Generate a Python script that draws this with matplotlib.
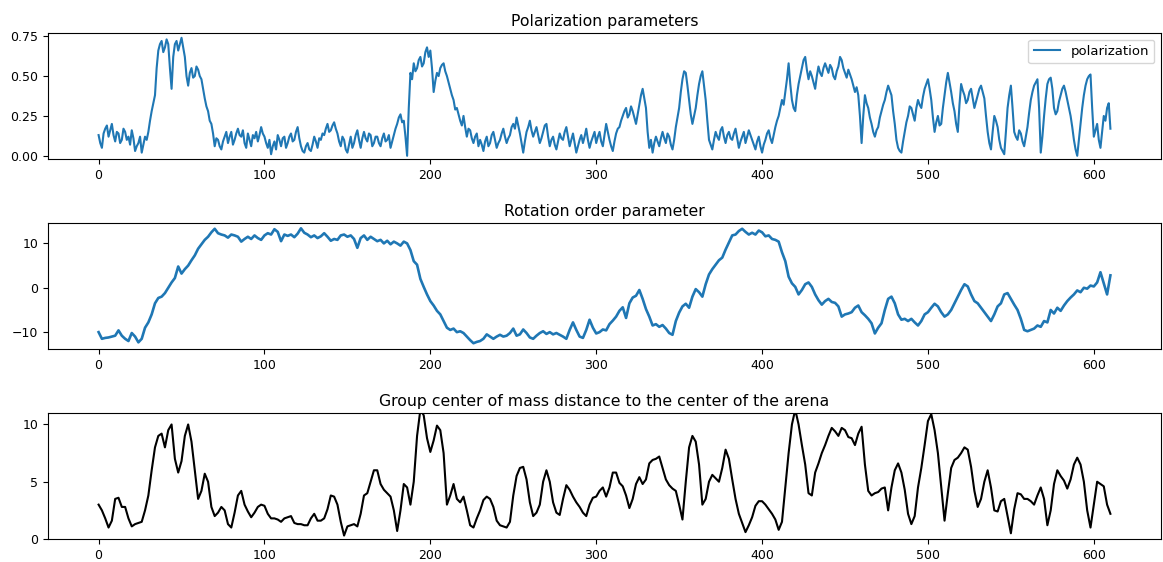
import numpy as np
import matplotlib
matplotlib.use("Agg")
import matplotlib.pyplot as plt

# time axes
time_fine = list(range(0, 611, 1))   # polarization sampled every unit
time = list(range(0, 611, 2))        # rotation / distance sampled every 2 units

polarization = [
    0.13, 0.08, 0.05, 0.14, 0.17, 0.19, 0.12, 0.16, 0.20, 0.13, 0.09, 0.15, 0.14, 0.08, 0.10, 0.17, 0.15, 0.10, 0.12, 0.07,
    0.16, 0.11, 0.03, 0.06, 0.08, 0.12, 0.02, 0.07, 0.12, 0.10, 0.15, 0.22, 0.28, 0.33, 0.38, 0.55, 0.66, 0.70, 0.72, 0.65,
    0.68, 0.73, 0.70, 0.55, 0.42, 0.62, 0.70, 0.72, 0.66, 0.70, 0.74, 0.68, 0.62, 0.50, 0.44, 0.52, 0.55, 0.49, 0.50, 0.56,
    0.54, 0.50, 0.48, 0.42, 0.36, 0.31, 0.28, 0.22, 0.20, 0.14, 0.06, 0.11, 0.10, 0.06, 0.04, 0.09, 0.12, 0.15, 0.08, 0.12,
    0.15, 0.07, 0.10, 0.14, 0.17, 0.13, 0.12, 0.16, 0.08, 0.05, 0.14, 0.10, 0.06, 0.13, 0.11, 0.15, 0.09, 0.13, 0.18, 0.14,
    0.12, 0.08, 0.05, 0.10, 0.01, 0.06, 0.09, 0.04, 0.13, 0.10, 0.06, 0.11, 0.12, 0.05, 0.08, 0.12, 0.14, 0.09, 0.10, 0.15,
    0.18, 0.11, 0.06, 0.03, 0.02, 0.06, 0.08, 0.04, 0.03, 0.07, 0.12, 0.09, 0.05, 0.11, 0.10, 0.14, 0.13, 0.17, 0.20, 0.15,
    0.16, 0.19, 0.21, 0.17, 0.14, 0.09, 0.06, 0.12, 0.10, 0.04, 0.02, 0.07, 0.12, 0.05, 0.08, 0.13, 0.16, 0.10, 0.05, 0.11,
    0.15, 0.11, 0.09, 0.14, 0.13, 0.06, 0.08, 0.12, 0.12, 0.08, 0.06, 0.11, 0.14, 0.09, 0.10, 0.13, 0.05, 0.09, 0.13, 0.17,
    0.20, 0.24, 0.26, 0.21, 0.22, 0.12, 0.00, 0.30, 0.52, 0.48, 0.58, 0.53, 0.55, 0.60, 0.62, 0.56, 0.58, 0.65, 0.68, 0.62,
    0.66, 0.55, 0.40, 0.47, 0.52, 0.50, 0.55, 0.57, 0.58, 0.53, 0.50, 0.46, 0.42, 0.38, 0.35, 0.29, 0.30, 0.26, 0.22, 0.19,
    0.25, 0.18, 0.12, 0.17, 0.16, 0.11, 0.08, 0.12, 0.14, 0.06, 0.10, 0.07, 0.03, 0.09, 0.12, 0.06, 0.08, 0.13, 0.15, 0.10,
    0.05, 0.08, 0.10, 0.14, 0.17, 0.12, 0.08, 0.11, 0.13, 0.18, 0.20, 0.17, 0.24, 0.19, 0.14, 0.08, 0.02, 0.09, 0.15, 0.18,
    0.22, 0.16, 0.12, 0.15, 0.18, 0.13, 0.08, 0.11, 0.15, 0.19, 0.20, 0.12, 0.06, 0.10, 0.12, 0.07, 0.04, 0.09, 0.14, 0.11,
    0.10, 0.15, 0.18, 0.12, 0.06, 0.10, 0.14, 0.08, 0.02, 0.06, 0.10, 0.13, 0.08, 0.12, 0.17, 0.10, 0.05, 0.09, 0.12, 0.15,
    0.08, 0.12, 0.15, 0.09, 0.06, 0.13, 0.20, 0.15, 0.10, 0.06, 0.03, 0.09, 0.14, 0.17, 0.18, 0.22, 0.25, 0.28, 0.30, 0.24,
    0.26, 0.31, 0.28, 0.24, 0.20, 0.26, 0.32, 0.38, 0.42, 0.36, 0.30, 0.15, 0.05, 0.10, 0.02, 0.08, 0.12, 0.09, 0.06, 0.11,
    0.15, 0.11, 0.08, 0.14, 0.12, 0.07, 0.04, 0.10, 0.18, 0.24, 0.30, 0.40, 0.48, 0.53, 0.52, 0.44, 0.35, 0.26, 0.20, 0.25,
    0.30, 0.38, 0.45, 0.50, 0.53, 0.44, 0.35, 0.22, 0.10, 0.07, 0.04, 0.10, 0.15, 0.12, 0.10, 0.16, 0.18, 0.12, 0.08, 0.13,
    0.15, 0.11, 0.10, 0.14, 0.17, 0.11, 0.05, 0.09, 0.12, 0.15, 0.08, 0.12, 0.16, 0.13, 0.10, 0.07, 0.04, 0.09, 0.12, 0.06,
    0.02, 0.07, 0.10, 0.14, 0.16, 0.11, 0.08, 0.13, 0.18, 0.22, 0.25, 0.30, 0.35, 0.32, 0.40, 0.48, 0.58, 0.45, 0.35, 0.30,
    0.28, 0.38, 0.45, 0.50, 0.55, 0.60, 0.62, 0.54, 0.48, 0.53, 0.50, 0.46, 0.42, 0.50, 0.56, 0.52, 0.50, 0.55, 0.58, 0.55,
    0.52, 0.57, 0.55, 0.50, 0.48, 0.53, 0.56, 0.62, 0.60, 0.55, 0.52, 0.49, 0.54, 0.51, 0.48, 0.44, 0.40, 0.43, 0.38, 0.25,
    0.08, 0.25, 0.38, 0.33, 0.30, 0.24, 0.20, 0.15, 0.12, 0.16, 0.18, 0.24, 0.28, 0.32, 0.35, 0.40, 0.44, 0.41, 0.38, 0.28,
    0.20, 0.10, 0.05, 0.03, 0.02, 0.09, 0.15, 0.21, 0.25, 0.31, 0.30, 0.26, 0.22, 0.30, 0.35, 0.32, 0.30, 0.37, 0.42, 0.45,
    0.48, 0.42, 0.35, 0.24, 0.15, 0.21, 0.25, 0.19, 0.20, 0.30, 0.38, 0.46, 0.52, 0.46, 0.40, 0.33, 0.28, 0.20, 0.15, 0.32,
    0.45, 0.41, 0.38, 0.33, 0.35, 0.40, 0.42, 0.36, 0.30, 0.34, 0.38, 0.42, 0.44, 0.40, 0.36, 0.25, 0.15, 0.08, 0.04, 0.15,
    0.25, 0.22, 0.18, 0.10, 0.05, 0.03, 0.01, 0.15, 0.30, 0.38, 0.44, 0.30, 0.15, 0.12, 0.10, 0.16, 0.14, 0.09, 0.06, 0.12,
    0.18, 0.27, 0.35, 0.40, 0.44, 0.46, 0.48, 0.30, 0.02, 0.12, 0.25, 0.36, 0.45, 0.48, 0.49, 0.42, 0.30, 0.26, 0.28, 0.34,
    0.38, 0.42, 0.44, 0.40, 0.35, 0.30, 0.25, 0.18, 0.10, 0.04, 0.00, 0.10, 0.20, 0.30, 0.38, 0.44, 0.48, 0.50, 0.51, 0.30,
    0.12, 0.16, 0.20, 0.10, 0.05, 0.15, 0.25, 0.22, 0.30, 0.33, 0.17,
]

rotation = [
    -10.0, -11.5, -11.3, -11.2, -11.0, -10.8, -9.6, -10.8, -11.5, -12.0,
    -10.2, -11.0, -12.3, -11.5, -9.0, -7.8, -6.0, -3.5, -2.3, -2.0,
    -1.2, 0.0, 1.2, 2.2, 4.8, 3.2, 4.2, 5.0, 6.2, 7.3,
    8.8, 9.8, 10.8, 11.5, 12.5, 13.3, 12.3, 12.0, 11.8, 11.3,
    12.0, 11.8, 11.5, 10.4, 11.0, 11.5, 11.0, 11.8, 11.2, 10.8,
    11.8, 12.3, 12.0, 13.2, 12.6, 10.5, 12.0, 11.7, 12.0, 11.4,
    12.2, 13.4, 12.4, 12.0, 11.4, 11.8, 11.2, 11.6, 12.3, 11.5,
    10.6, 11.0, 10.8, 11.8, 12.0, 11.5, 11.8, 11.0, 9.0, 11.2,
    11.8, 10.8, 11.5, 11.0, 10.5, 10.8, 10.0, 10.6, 9.8, 10.4,
    10.0, 9.5, 10.4, 10.0, 8.5, 6.0, 5.2, 2.0, 0.2, -1.5,
    -3.0, -4.0, -5.2, -6.0, -7.5, -9.0, -9.5, -9.2, -10.0, -9.8,
    -10.2, -11.0, -11.8, -12.5, -12.2, -12.0, -11.5, -10.5, -11.0, -11.5,
    -11.0, -10.6, -11.0, -10.8, -10.2, -9.2, -10.8, -10.5, -9.4, -10.2,
    -11.2, -11.5, -10.8, -10.2, -9.8, -10.4, -10.0, -10.5, -10.2, -10.6,
    -11.0, -11.5, -9.5, -7.8, -9.5, -11.0, -11.3, -9.5, -7.2, -9.0,
    -10.3, -10.0, -9.4, -9.6, -8.2, -7.4, -6.5, -5.2, -4.4, -6.8,
    -3.5, -2.2, -1.8, -0.5, -2.5, -4.8, -6.5, -8.5, -8.2, -8.8,
    -8.4, -9.2, -10.2, -10.6, -7.5, -5.6, -4.2, -3.6, -4.5, -2.0,
    -0.3, -1.0, -2.0, 0.8, 3.0, 4.2, 5.2, 6.2, 6.8, 8.6,
    10.2, 11.8, 12.0, 12.8, 13.3, 12.6, 12.0, 12.4, 12.0, 12.9,
    12.5, 11.6, 11.8, 11.0, 10.8, 10.4, 8.0, 6.0, 2.5, 1.0,
    0.2, -1.5, -0.5, 0.8, 1.2, 0.2, -1.5, -2.8, -3.8, -3.0,
    -2.5, -3.2, -3.4, -4.2, -6.5, -6.0, -5.8, -5.5, -4.5, -4.0,
    -5.5, -6.2, -7.0, -8.0, -10.3, -9.0, -8.0, -5.0, -2.5, -2.0,
    -3.5, -6.0, -7.2, -7.0, -7.5, -7.0, -7.8, -8.5, -7.5, -6.0,
    -5.5, -4.5, -3.6, -4.2, -5.5, -6.5, -6.0, -5.0, -3.5, -2.0,
    -0.5, 0.8, 0.3, -1.5, -3.0, -3.5, -4.5, -5.5, -6.5, -7.5,
    -6.0, -4.2, -3.5, -1.5, -1.2, -2.5, -3.8, -5.0, -7.0, -9.5,
    -9.8, -9.5, -9.2, -8.5, -8.8, -7.5, -7.8, -5.0, -5.8, -4.5,
    -5.2, -4.0, -3.0, -2.2, -1.5, -0.6, -1.0, 0.0, -0.2, 0.5,
    0.3, 1.2, 3.5, 1.0, -1.5, 2.8,
]

distance = [
    3.0, 2.5, 1.8, 1.0, 1.6, 3.5, 3.6, 2.8, 2.8, 1.8,
    1.1, 1.3, 1.4, 1.5, 2.5, 3.8, 6.0, 8.0, 9.0, 9.2,
    8.0, 9.5, 10.0, 7.0, 5.8, 6.8, 9.0, 10.0, 8.5, 6.0,
    3.5, 4.2, 5.7, 5.0, 2.8, 2.0, 2.3, 2.8, 2.5, 1.3,
    1.0, 2.3, 3.8, 4.2, 3.0, 2.4, 1.9, 2.3, 2.8, 3.0,
    2.9, 2.2, 1.8, 1.8, 1.7, 1.5, 1.8, 1.9, 2.0, 1.4,
    1.3, 1.3, 1.2, 1.2, 1.8, 2.2, 1.6, 1.6, 1.8, 2.6,
    3.8, 3.7, 3.0, 1.5, 0.3, 1.1, 1.2, 1.3, 1.1, 2.2,
    3.8, 4.0, 5.0, 6.0, 6.0, 4.8, 4.3, 4.0, 3.7, 2.5,
    0.7, 2.5, 4.8, 4.5, 3.0, 5.0, 9.0, 11.3, 10.8, 8.8,
    7.6, 8.6, 9.9, 9.5, 7.5, 3.0, 3.8, 4.8, 3.5, 3.2,
    3.7, 2.5, 1.2, 1.0, 1.8, 2.5, 3.4, 3.7, 3.5, 2.8,
    1.6, 1.2, 1.1, 1.0, 1.5, 3.8, 5.5, 6.2, 6.3, 5.2,
    3.2, 2.0, 2.3, 3.0, 5.0, 6.0, 5.0, 3.2, 2.3, 2.1,
    3.5, 4.7, 4.3, 3.7, 3.2, 2.8, 2.3, 2.0, 3.0, 3.6,
    3.7, 4.2, 4.5, 3.7, 4.5, 5.8, 5.8, 4.9, 4.6, 3.8,
    2.7, 3.5, 4.8, 5.4, 4.8, 5.2, 6.6, 6.9, 7.0, 7.2,
    6.2, 5.2, 4.7, 4.4, 4.2, 3.0, 1.7, 5.0, 8.0, 9.0,
    8.5, 6.5, 3.0, 3.5, 5.0, 5.6, 5.3, 5.0, 6.2, 7.8,
    7.0, 5.2, 3.5, 2.2, 1.4, 0.6, 1.2, 1.9, 2.9, 3.3,
    3.3, 3.0, 2.6, 2.2, 1.7, 0.8, 1.5, 4.5, 7.5, 10.0,
    11.3, 10.0, 8.2, 6.5, 4.0, 3.8, 5.8, 6.6, 7.5, 8.2,
    9.0, 9.7, 9.4, 9.0, 9.7, 9.5, 8.9, 8.8, 8.2, 9.2,
    9.8, 6.5, 4.2, 3.8, 4.0, 4.1, 4.4, 4.5, 2.5, 4.5,
    6.0, 6.6, 5.8, 4.3, 2.2, 1.3, 2.0, 4.5, 6.2, 8.2,
    10.3, 10.9, 9.5, 7.5, 4.5, 1.6, 4.0, 6.2, 6.9, 7.1,
    7.5, 8.0, 7.8, 6.3, 4.2, 2.8, 3.5, 5.0, 6.0, 4.5,
    2.5, 2.4, 3.3, 3.5, 2.0, 0.5, 2.6, 4.0, 3.9, 3.5,
    3.5, 3.3, 3.0, 3.8, 4.5, 3.5, 1.2, 2.5, 4.8, 6.0,
    5.5, 5.1, 4.4, 5.2, 6.5, 7.1, 6.5, 5.0, 2.5, 1.0,
    3.0, 5.0, 4.8, 4.6, 3.0, 2.2,
]

titles = ["Polarization parameters", "Rotation order parameter",
          "Group center of mass distance to the center of the arena"]

W, H = 1163, 562
fig = plt.figure(figsize=(W / 100, H / 100), dpi=100)

def add_ax(top_px, bottom_px):
    left = 48 / W
    width = (1161 - 48) / W
    bottom = 1 - bottom_px / H
    height = (bottom_px - top_px) / H
    return fig.add_axes([left, bottom, width, height])

ax1 = add_ax(33, 159)
ax2 = add_ax(223, 349)
ax3 = add_ax(413, 539)

blue = "#1f77b4"
ax1.plot(time_fine, polarization, color=blue, lw=1.5, label="polarization")
ax1.set_yticks([0.0, 0.25, 0.5, 0.75])
ax1.set_ylim(-0.02, 0.77)
ax1.legend(loc="upper right", fontsize=9.5)

ax2.plot(time, rotation, color=blue, lw=1.9)
ax2.set_yticks([-10, 0, 10])
ax2.set_ylim(-13.8, 14.6)

ax3.plot(time, distance, color="black", lw=1.5)
ax3.set_ylim(0, 11)
ax3.set_yticks([0, 5, 10])

for ax, t in zip([ax1, ax2, ax3], titles):
    ax.set_xlim(-30.5, 640.5)
    ax.set_xticks([0, 100, 200, 300, 400, 500, 600])
    ax.set_title(t, fontsize=11.3, pad=5)
    ax.tick_params(labelsize=9)

fig.savefig("out.png", dpi=100)
